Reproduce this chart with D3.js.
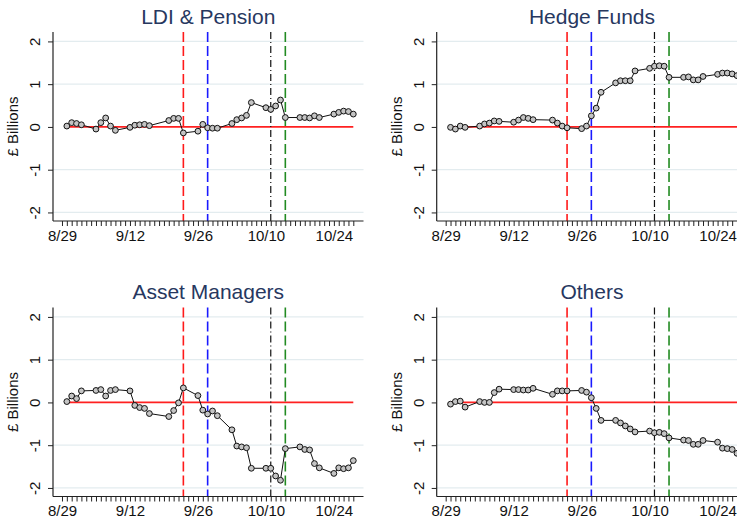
<!DOCTYPE html>
<html>
<head>
<meta charset="utf-8">
<script src="https://cdn.jsdelivr.net/npm/d3@7"></script>
<style>
  html, body { margin: 0; padding: 0; background: #fff; }
  svg { display: block; }
  text { font-family: "Liberation Sans", Arial, sans-serif; }
</style>
</head>
<body>
<svg id="chart" width="737" height="520"></svg>
<script>
// ---------- data ----------
const dates = [
  "2022-08-30","2022-08-31","2022-09-01","2022-09-02",
  "2022-09-05","2022-09-06","2022-09-07","2022-09-08","2022-09-09",
  "2022-09-12","2022-09-13","2022-09-14","2022-09-15","2022-09-16",
  "2022-09-20","2022-09-21","2022-09-22","2022-09-23",
  "2022-09-26","2022-09-27","2022-09-28","2022-09-29","2022-09-30",
  "2022-10-03","2022-10-04","2022-10-05","2022-10-06","2022-10-07",
  "2022-10-10","2022-10-11","2022-10-12","2022-10-13","2022-10-14",
  "2022-10-17","2022-10-18","2022-10-19","2022-10-20","2022-10-21",
  "2022-10-24","2022-10-25","2022-10-26","2022-10-27","2022-10-28"
];
const ldiPension = [
  0.02, 0.10, 0.08, 0.05,
  -0.05, 0.10, 0.21, 0.02, -0.08,
  -0.01, 0.04, 0.05, 0.06, 0.03,
  0.15, 0.20, 0.20, -0.14,
  -0.10, 0.06, -0.02, -0.03, -0.03,
  0.08, 0.17, 0.21, 0.27, 0.57,
  0.45, 0.41, 0.49, 0.63, 0.22,
  0.22, 0.22, 0.21, 0.26, 0.22,
  0.30, 0.34, 0.37, 0.36, 0.30
];
const hedgeFunds = [
  -0.01, -0.05, 0.02, -0.01,
  0.02, 0.07, 0.09, 0.14, 0.13,
  0.11, 0.16, 0.22, 0.20, 0.17,
  0.16, 0.09, 0.02, -0.02,
  -0.04, 0.02, 0.26, 0.44, 0.81,
  1.03, 1.08, 1.08, 1.08, 1.31,
  1.37, 1.42, 1.43, 1.42, 1.16,
  1.16, 1.17, 1.10, 1.10, 1.18,
  1.23, 1.26, 1.26, 1.24, 1.20
];
const assetManagers = [
  0.02, 0.15, 0.09, 0.27,
  0.28, 0.30, 0.15, 0.28, 0.30,
  0.27, -0.07, -0.12, -0.14, -0.26,
  -0.33, -0.19, -0.01, 0.34,
  0.16, -0.18, -0.27, -0.20, -0.31,
  -0.64, -1.02, -1.04, -1.06, -1.54,
  -1.54, -1.54, -1.72, -1.82, -1.08,
  -1.04, -1.10, -1.11, -1.43, -1.53,
  -1.66, -1.53, -1.55, -1.53, -1.36
];
const others = [
  -0.04, 0.02, 0.03, -0.11,
  0.02, 0.00, 0.00, 0.23, 0.31,
  0.30, 0.30, 0.29, 0.29, 0.33,
  0.19, 0.27, 0.27, 0.27,
  0.28, 0.24, 0.11, -0.14, -0.42,
  -0.42, -0.48, -0.55, -0.62, -0.69,
  -0.67, -0.71, -0.70, -0.73, -0.83,
  -0.88, -0.89, -0.98, -0.98, -0.89,
  -0.93, -1.07, -1.08, -1.10, -1.19
];
const panelTitles = ["LDI & Pension", "Hedge Funds", "Asset Managers", "Others"];
const yTicks = [-2, -1, 0, 1, 2];
const yTickLabels = ["-2", "-1", "0", "1", "2"];
const xTickLabels = ["8/29", "9/12", "9/26", "10/10", "10/24"];
const axisStart = "2022-08-29";
const axisEnd = "2022-10-28";
const eventDates = ["2022-09-23", "2022-09-28", "2022-10-11", "2022-10-14"];
const eventColors = ["#ff1a1a", "#1a1aff", "#111111", "#228b22"];
const eventDash = ["10,4", "10,4", "7,3,1,3", "10,4"];

// ---------- layout ----------
const parse = d3.utcParse("%Y-%m-%d");
const seriesList = [ldiPension, hedgeFunds, assetManagers, others];
const panels = [
  { x0: 53, y0: 32 }, { x0: 436.7, y0: 32 },
  { x0: 53, y0: 307.5 }, { x0: 436.7, y0: 307.5 }
];
const W = 310.5, H = 189;
const DAY = 864e5;
const start = parse(axisStart), end = parse(axisEnd);
const allDays = d3.utcDay.range(start, d3.utcDay.offset(end, 1));
const labelDays = xTickLabels.map(s => {
  const [m, d] = s.split("/").map(Number);
  return +new Date(Date.UTC(2022, m - 1, d));
});

const svg = d3.select("#chart");

panels.forEach((p, i) => {
  const data = dates.map((d, k) => ({ date: parse(d), v: seriesList[i][k] }));
  const x = d3.scaleUtc()
    .domain([new Date(+start - 1.85 * DAY), new Date(+end + 2.1 * DAY)])
    .range([0, W]);
  const y = d3.scaleLinear().domain([-2.2, 2.22]).range([H, 0]);

  const g = svg.append("g").attr("transform", `translate(${p.x0},${p.y0})`);

  // gridlines
  g.selectAll(".grid").data(yTicks.filter(t => t !== 0)).join("line")
    .attr("x1", 0).attr("x2", W)
    .attr("y1", d => y(d)).attr("y2", d => y(d))
    .attr("stroke", "#e3ecef").attr("stroke-width", 1.3);

  // red zero line across data range
  g.append("line")
    .attr("x1", x(data[0].date)).attr("x2", x(data[data.length - 1].date))
    .attr("y1", y(0)).attr("y2", y(0))
    .attr("stroke", "#ff2020").attr("stroke-width", 1.8);

  // event lines
  eventDates.forEach((ed, j) => {
    g.append("line")
      .attr("x1", x(parse(ed))).attr("x2", x(parse(ed)))
      .attr("y1", 0).attr("y2", H)
      .attr("stroke", eventColors[j])
      .attr("stroke-width", j === 2 ? 1.2 : 1.6)
      .attr("stroke-dasharray", eventDash[j]);
  });

  // series line
  g.append("path").datum(data)
    .attr("fill", "none").attr("stroke", "#111").attr("stroke-width", 1)
    .attr("d", d3.line().x(d => x(d.date)).y(d => y(d.v)));

  // markers
  g.selectAll(".pt").data(data).join("circle")
    .attr("cx", d => x(d.date)).attr("cy", d => y(d.v)).attr("r", 2.9)
    .attr("fill", "#c4c4c4").attr("stroke", "#111").attr("stroke-width", 1);

  // x axis
  const xAxis = d3.axisBottom(x)
    .tickValues(allDays)
    .tickSize(5).tickPadding(4)
    .tickFormat(d => {
      const idx = labelDays.indexOf(+d);
      return idx >= 0 ? xTickLabels[idx] : "";
    });
  const gx = g.append("g").attr("transform", `translate(0,${H})`).call(xAxis);
  gx.select(".domain").attr("stroke", "#222").attr("stroke-width", 1.2)
    .attr("d", `M0,0H${W}`);
  gx.selectAll(".tick line").attr("stroke", "#222").attr("stroke-width", 1);
  gx.selectAll(".tick text").attr("font-size", 15).attr("fill", "#111")
    .attr("font-family", "Liberation Sans, Arial, sans-serif");

  // y axis
  const yAxis = d3.axisLeft(y).tickValues(yTicks).tickSize(5)
    .tickFormat((d, k) => yTickLabels[k]);
  const gy = g.append("g").call(yAxis);
  gy.select(".domain").attr("stroke", "#222").attr("stroke-width", 1.2)
    .attr("d", `M0,0V${H}`);
  gy.selectAll(".tick line").attr("stroke", "#222");
  gy.selectAll(".tick text")
    .attr("font-size", 15).attr("fill", "#111")
    .attr("font-family", "Liberation Sans, Arial, sans-serif")
    .attr("transform", "rotate(-90)")
    .attr("x", 0).attr("y", -13).attr("dy", 0)
    .attr("text-anchor", "middle");

  // y label
  g.append("text")
    .attr("transform", `translate(${-35},${H / 2}) rotate(-90)`)
    .attr("text-anchor", "middle")
    .attr("font-size", 15).attr("fill", "#111")
    .text("£ Billions");

  // title
  g.append("text")
    .attr("x", W / 2).attr("y", -8.5)
    .attr("text-anchor", "middle")
    .attr("font-size", 21).attr("fill", "#27385f")
    .text(panelTitles[i]);
});
</script>
</body>
</html>
